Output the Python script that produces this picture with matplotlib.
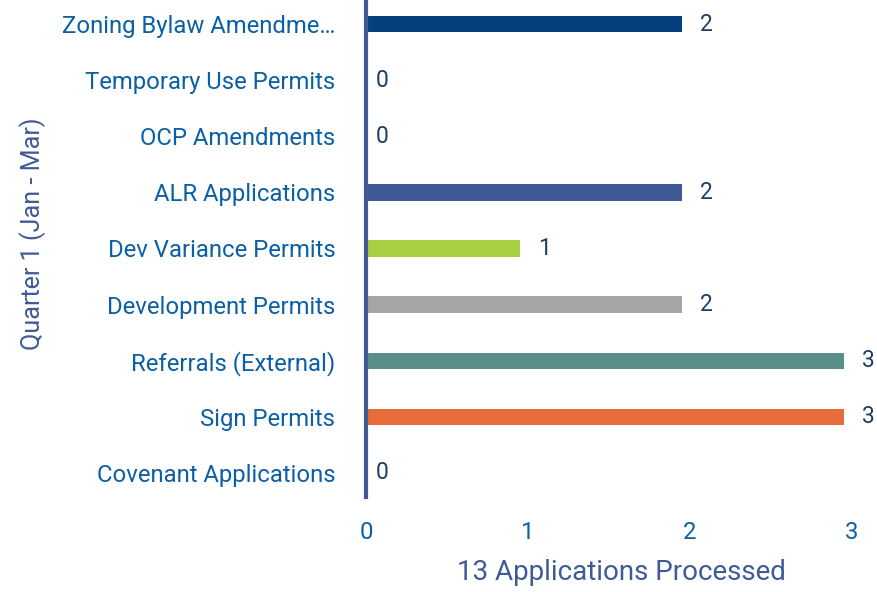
import matplotlib.pyplot as plt
import matplotlib.transforms as mtransforms

# categories listed bottom to top
categorias = ['Covenant Applications', 'Sign Permits', 'Referrals (External)',
              'Development Permits', 'Dev Variance Permits', 'ALR Applications',
              'OCP Amendments', 'Temporary Use Permits', 'Zoning Bylaw Amendme\u2026']
valores = [0, 3, 3, 2, 1, 2, 0, 0, 2]
cores = ['#7f7f7f', '#e66c3a', '#5a8f8a', '#a5a5a5', '#a9cf45', '#3f5a96',
         '#3f5a96', '#3f5a96', '#053f7e']
ticks_x = [0, 1, 2, 3]

plt.rcParams['font.family'] = ['Roboto', 'DejaVu Sans']

fig = plt.figure(figsize=(8.78, 5.92), dpi=100)
ax = fig.add_axes([366 / 878, 1 - 497 / 592, (852 - 366) / 878, 497 / 592])

pos = list(range(len(categorias)))
# bars in the original end a few pixels short of the tick positions
desloc = ax.transData + mtransforms.ScaledTranslation(-8 / 100, 0, fig.dpi_scale_trans)
ax.barh(pos, valores, height=0.29, color=cores, transform=desloc)

desloc_txt = ax.transData + mtransforms.ScaledTranslation(10 / 100, 0, fig.dpi_scale_trans)
for p, v in zip(pos, valores):
    ax.text(v, p, str(v), transform=desloc_txt, ha='left', va='center',
            fontsize=16.5, color='#1d3f66', clip_on=False)

ax.set_xlim(0, 3)
ax.set_ylim(-0.43, len(categorias) - 0.57)
ax.set_xticks(ticks_x)
ax.set_yticks(pos)
ax.set_yticklabels(categorias)

ax.tick_params(axis='both', length=0, labelsize=17.2, labelcolor='#0b5fa5')
ax.tick_params(axis='y', pad=22)
ax.tick_params(axis='x', pad=17)

for s in ['top', 'right', 'bottom']:
    ax.spines[s].set_visible(False)
ax.spines['left'].set_color('#3f5a96')
ax.spines['left'].set_linewidth(3)

ax.set_xlabel('13 Applications Processed', fontsize=20, color='#3f5a96')
ax.xaxis.set_label_coords((621 - 366) / 486, -0.151)
ax.xaxis.label.set_va('center')
fig.text(33 / 878, 1 - 234 / 592, 'Quarter 1 (Jan - Mar)', rotation=90,
         ha='center', va='center', fontsize=18.1, color='#3f5a96')

fig.savefig('out.png', dpi=100)
